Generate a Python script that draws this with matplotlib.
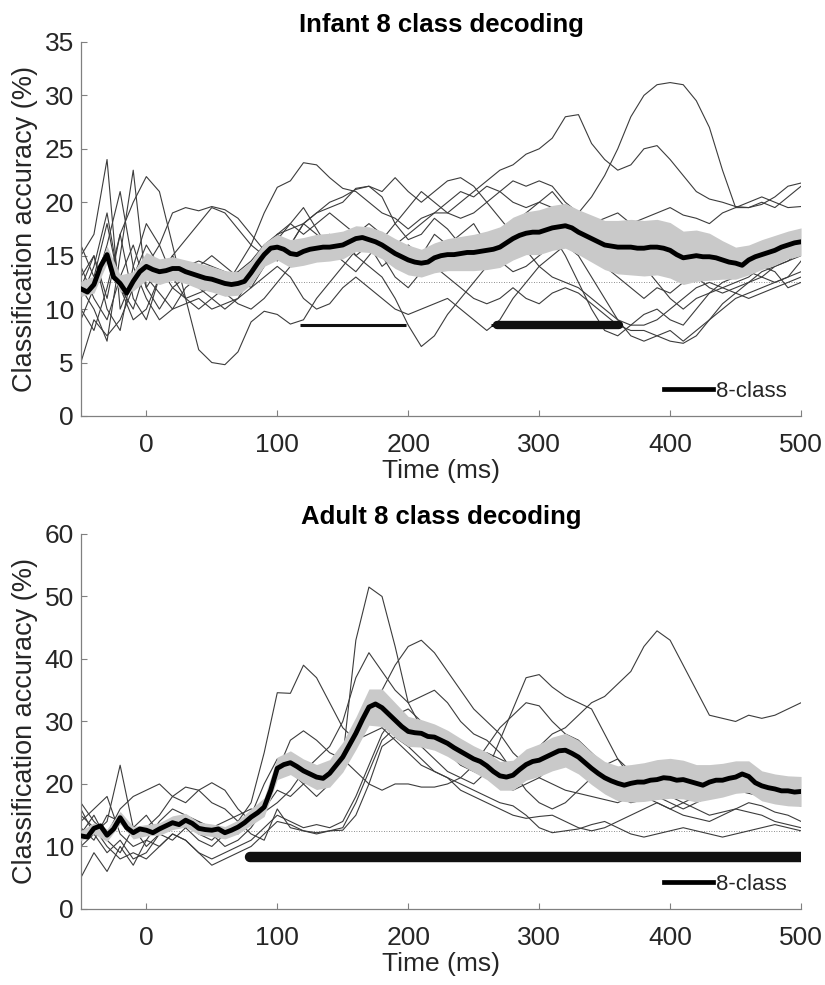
import numpy as np
import matplotlib.pyplot as plt
from matplotlib.lines import Line2D

plt.rcParams['font.family'] = ['Liberation Sans', 'DejaVu Sans']

# ---------------- data ----------------
t_sub = np.arange(-50, 501, 10)    # grid of the single-subject curves (ms)
t_mean = np.arange(-50, 501, 5)    # grid of the group mean (ms)
CHANCE = 12.5

# Infant subjects (t = -50 .. 500, 10 ms)
inf_s1 = [10, 8, 12, 17, 11, 9, 13, 15, 13, 12,
          11, 10, 11, 13, 15, 17, 16, 18, 17, 16,
          17, 15, 16, 14, 15, 16, 15, 17, 16, 17,
          18, 16, 15, 17, 18, 19, 18, 19, 19, 20.5,
          22.5, 25, 28, 30, 31, 31.2, 31, 29.5, 27, 23,
          19.5, 19.5, 20, 19.5, 20.5, 21.5]
inf_s2 = [14, 11, 9, 13, 16, 12, 10, 12, 13, 14,
          15, 14, 13, 12, 14, 17, 18, 17, 18, 19,
          18, 17, 18, 17, 16, 17, 18, 19, 19, 20,
          21, 22, 23, 23.5, 24.5, 25, 26, 28, 28.2, 25.5,
          24, 23, 23.5, 25, 25.3, 24, 22.5, 21, 20.3, 20,
          19.6, 19.5, 19.8, 20.5, 21.5, 21.8]
inf_s3 = [16, 13, 18, 12, 10, 14, 16, 13, 11, 10,
          11, 12, 14, 16, 19, 21.4, 22, 23.7, 23.5, 22.3,
          21.3, 21, 20, 19, 18.5, 17.5, 18.5, 19, 20, 21,
          20.5, 21.5, 21, 22, 21.5, 22, 21.5, 20, 19, 18,
          17, 16, 15.5, 14, 12.5, 11, 10, 11, 11.5, 12,
          12.5, 13, 14, 13.5, 12, 12.5]
inf_s4 = [13, 15, 10, 8, 14, 18, 16, 19, 19.5, 19.2,
          19.6, 19.3, 18.5, 17, 15.5, 14.5, 16, 18, 19, 19.5,
          20, 21.3, 21.5, 20.5, 18, 16.5, 17, 18.5, 17.5, 16,
          16.5, 15.5, 14.5, 13.5, 14, 15, 16, 17.5, 16.5, 15,
          14, 13, 12, 11, 12, 11.5, 12.5, 13, 12, 11.5,
          12, 12.5, 13.5, 14, 14.5, 15.5]
inf_s5 = [11, 14, 19, 12, 9, 10, 13, 15, 16.5, 18,
          19.5, 19, 17.5, 16, 15, 16.5, 18, 19.5, 17.5, 15.5,
          14.5, 13.5, 15, 16.5, 18, 19.5, 21, 20, 19, 18.5,
          19, 20, 21, 20, 19.5, 20, 21, 19.5, 19, 18,
          18.5, 19, 18, 18.5, 19, 19.5, 18.8, 18.5, 18, 19,
          19.5, 20, 20.5, 20, 19.5, 19.6]
inf_s6 = [12, 15, 11, 17, 20, 22.4, 21, 16, 11, 6.2,
          5, 4.8, 6, 8.8, 9.8, 9.5, 8.6, 9, 11, 12.5,
          14, 15.5, 16.5, 15, 13, 12, 13.5, 14, 13, 12,
          11, 10.5, 11, 12, 11, 10.5, 11.5, 12, 11.5, 10.5,
          9.5, 8.5, 8, 8, 7.5, 8, 7, 8, 9, 10.5,
          11.5, 12.5, 13, 14, 14.5, 15]
inf_s7 = [9, 12, 16, 21, 14, 11, 9, 10, 12, 13,
          12.5, 11.5, 10.5, 10, 11, 12.5, 14, 15, 16, 17,
          16, 15, 14, 13, 11, 8.5, 6.5, 7.5, 9.5, 11,
          12.5, 14, 15.5, 17, 18, 18.5, 17, 15, 12.5, 10,
          8, 7.5, 8.5, 9.5, 10, 9, 8.5, 10, 11.5, 12.5,
          13, 13.5, 13, 12.5, 13, 13.5]
inf_s8 = [15, 17, 24, 10, 13, 16, 14, 12, 11, 11.5,
          12, 13, 13.5, 14.5, 16, 17, 17.5, 18, 19, 20,
          20.5, 21.2, 21.5, 21, 22.3, 21, 20, 21, 22, 22.3,
          21.5, 20, 18.5, 17, 15.5, 14, 13, 12.5, 12, 11,
          10, 9, 8.5, 8.5, 9, 10, 11, 12, 12.5, 12,
          11.5, 11, 11.5, 12, 12.5, 13]
inf_s9 = [5, 9, 7.5, 9, 12, 13, 11.5, 10, 10.5, 11,
          10, 10.5, 11, 12, 13, 14, 13, 11, 10, 10.5,
          12, 13, 12, 11, 10, 9.5, 10, 10.5, 11, 10,
          9, 8, 9, 11, 12.5, 14, 15, 16, 15, 13,
          11, 9, 7.5, 7, 7.5, 7, 6.8, 7.5, 9, 10,
          11, 11.5, 12, 12.5, 13, 14.5]
inf_s10 = [12, 10, 7, 15, 23, 12, 14, 13.5, 14, 14.5,
           14, 13.5, 13, 12.5, 14, 15.5, 16, 15, 14.5, 15,
           16, 17, 17.5, 16.5, 15, 14, 13.5, 14.5, 15, 16,
           16.5, 17, 17.5, 18, 19, 20, 19.5, 18, 17, 16,
           15.5, 15, 15.5, 16, 15, 14.5, 14, 14.5, 15, 14.5,
           14, 14.5, 15, 16, 16.5, 17]

# Infant group mean (5 ms) and SEM (10 ms)
inf_mean = [11.9, 11.6, 12.3, 14.0, 15.1, 13.0, 12.4, 11.5, 12.6, 13.5,
            14.0, 13.7, 13.5, 13.6, 13.8, 13.8, 13.5, 13.3, 13.1, 12.9,
            12.8, 12.6, 12.4, 12.3, 12.4, 12.6, 13.4, 14.3, 15.1, 15.7,
            15.8, 15.6, 15.2, 15.1, 15.4, 15.6, 15.7, 15.8, 15.8, 15.9,
            16.0, 16.3, 16.6, 16.7, 16.5, 16.3, 16.0, 15.6, 15.2, 14.9,
            14.6, 14.4, 14.3, 14.4, 14.8, 15.0, 15.1, 15.1, 15.2, 15.3,
            15.3, 15.4, 15.5, 15.6, 15.8, 16.2, 16.6, 16.9, 17.1, 17.2,
            17.2, 17.4, 17.6, 17.7, 17.8, 17.6, 17.2, 16.9, 16.6, 16.3,
            16.0, 15.9, 15.8, 15.8, 15.8, 15.7, 15.7, 15.8, 15.8, 15.7,
            15.5, 15.1, 14.8, 14.9, 15.0, 14.9, 14.9, 14.8, 14.6, 14.4,
            14.3, 14.1, 14.6, 14.9, 15.1, 15.3, 15.5, 15.8, 16.0, 16.2,
            16.3]
inf_sem = [0.7, 0.8, 0.8, 0.8, 0.9, 1.3, 1.2, 1.1, 1.1, 1.2,
           1.2, 1.2, 1.1, 1.1, 1.1, 1.2, 1.3, 1.3, 1.3, 1.3,
           1.3, 1.2, 1.2, 1.3, 1.4, 1.4, 1.3, 1.4, 1.5, 1.6,
           1.7, 1.8, 1.9, 2.0, 2.0, 2.1, 2.1, 2.1, 2.1, 2.2,
           2.3, 2.5, 2.6, 2.6, 2.6, 2.6, 2.5, 2.4, 2.2, 1.8,
           1.5, 1.4, 1.4, 1.4, 1.3, 1.3]

# Adult subjects (t = -50 .. 500, 10 ms)
ad_s1 = [16, 12, 14, 23, 13, 10, 12, 13, 14, 12,
         11, 13, 12, 15, 20, 24, 22, 20, 18, 20,
         24, 43, 51.5, 50, 42, 33, 29, 27, 25, 23,
         22, 21, 20, 19, 20, 21, 23, 24, 22, 21,
         19, 18, 17, 17.5, 18, 17, 16, 17, 18, 19,
         19.5, 19, 18, 17.5, 17, 16.5]
ad_s2 = [12, 15, 11, 9, 13, 15, 12, 11, 13, 14,
         12, 10, 11, 13, 16, 19, 18, 20, 22, 21,
         23, 27, 31, 35, 39, 42, 43, 41, 38, 35,
         32, 30, 28, 25, 23, 21, 20, 19, 18.5, 18,
         17.5, 17, 18, 19, 20, 19, 20, 21, 22, 21,
         20, 19.5, 19, 18, 17, 16.5]
ad_s3 = [14, 16, 18, 12, 10, 11, 14, 16, 15, 14,
         13, 14, 15, 16, 15.5, 17, 19, 22, 24, 26,
         30, 37, 41, 38, 35, 33, 34, 35, 33, 30,
         28, 27, 25, 22, 19, 17, 16, 17, 19, 21,
         23, 24, 22, 21, 20, 19, 18, 19, 20, 19.5,
         19, 18.5, 18, 18.5, 19, 19]
ad_s4 = [10, 12, 9, 11, 8, 9, 12, 14, 13, 11,
         10, 12, 14, 17, 25, 34.6, 34.5, 39, 37, 33,
         29, 27, 28, 29, 27, 25, 23, 22, 21, 19,
         18, 17, 16, 15, 14.5, 14.8, 15, 14, 13, 12.5,
         13, 14, 15, 16, 17, 16, 15, 14.5, 14, 15,
         16, 17, 16.5, 15.5, 15, 14]
ad_s5 = [5, 9, 6, 10, 7, 11, 10, 12, 11, 9,
         8, 9, 10, 11, 13, 15, 14, 13, 13.5, 13,
         14, 18, 23, 28, 31, 32, 30, 27, 25, 24,
         24.5, 25, 24, 23, 24, 26, 28, 29, 31, 33,
         34, 36, 38, 42, 44.5, 43, 39, 35, 31, 30.5,
         30, 31, 30.5, 31, 32, 33]
ad_s6 = [13, 11, 15, 14, 12, 13, 15, 18, 19.5, 19,
         17, 16, 14, 12, 11, 16, 13, 12.5, 12, 12.5,
         13, 17, 22, 27, 29, 28, 26, 24, 22, 21,
         20, 22, 27, 32, 37, 37.5, 35.5, 34, 33, 32,
         28, 24, 21, 20, 19, 18, 17, 16, 15, 15.5,
         16, 15.5, 15, 14, 13.5, 13]
ad_s7 = [17, 14, 12, 16, 18, 19, 20, 18, 17, 19,
         20.2, 19, 16, 14, 17, 22, 27, 28.5, 27, 25,
         24, 22, 20, 19, 20, 20, 19.5, 19.5, 20, 21,
         23, 26, 29, 31, 33, 32.5, 30, 28, 27, 25,
         23, 21, 19, 18, 17, 16, 17, 18, 19, 20,
         21, 22, 21.5, 20, 19, 18.5]
ad_s8 = [15, 13, 10, 8, 9, 8, 10, 12, 11, 9,
         7, 8, 9, 10, 12, 14, 13.5, 12.5, 12.2, 12.5,
         12.6, 15, 20, 26, 27.5, 26, 24, 22, 21, 20,
         19, 18, 17, 16.5, 15, 13, 12.2, 12.5, 12.8, 13.5,
         14, 13, 12, 11.5, 12, 12.5, 13, 12.5, 12, 11.5,
         12, 12.5, 13, 13.5, 13, 12.5]

# Adult group mean (5 ms) and SEM (10 ms)
ad_mean = [11.7, 11.5, 12.9, 13.3, 11.8, 12.8, 14.6, 13.0, 12.2, 12.8,
           12.6, 12.2, 12.8, 13.3, 13.8, 13.5, 14.2, 13.7, 12.9, 12.7,
           12.6, 12.8, 12.2, 12.6, 13.1, 13.8, 14.7, 15.4, 16.3, 19.0,
           22.5, 23.1, 23.4, 22.8, 22.1, 21.6, 21.1, 20.9, 21.7, 23.0,
           24.3, 26.2, 28.1, 30.3, 32.3, 32.8, 32.2, 31.2, 30.2, 29.2,
           28.4, 28.2, 28.1, 27.6, 27.5, 27.0, 26.5, 25.8, 25.2, 24.6,
           24.0, 23.6, 22.9, 22.0, 21.3, 21.1, 21.4, 22.3, 23.1, 23.6,
           23.8, 24.3, 24.8, 25.3, 25.4, 24.9, 24.3, 23.4, 22.5, 21.7,
           21.0, 20.5, 20.1, 19.8, 20.1, 20.3, 20.3, 20.6, 20.7, 21.0,
           20.9, 20.6, 20.7, 20.4, 20.1, 19.8, 20.3, 20.6, 20.6, 20.9,
           21.1, 21.6, 21.2, 20.2, 19.7, 19.4, 19.2, 18.9, 18.9, 18.7,
           18.8]
ad_sem = [0.8, 0.9, 1.0, 1.0, 1.0, 0.9, 1.0, 1.1, 1.1, 1.0,
          1.0, 1.0, 1.1, 1.3, 1.5, 1.8, 1.9, 1.9, 2.0, 2.2,
          2.4, 2.6, 2.9, 3.0, 2.8, 2.4, 2.2, 2.1, 2.1, 2.1,
          2.1, 2.2, 2.3, 2.4, 2.5, 2.6, 2.7, 2.7, 2.7, 2.6,
          2.6, 2.8, 3.0, 3.1, 3.2, 3.2, 3.1, 3.0, 2.8, 2.7,
          2.6, 2.5, 2.4, 2.4, 2.4, 2.4]

# significant time windows (ms) and the height at which they are marked
inf_sig_thin = [(117, 198), (263, 268)]
inf_sig_thick = [(268, 361)]
inf_sig_y = 8.5
ad_sig_thin = []
ad_sig_thick = [(79, 500)]
ad_sig_y = 8.3

inf_subjects = [inf_s1, inf_s2, inf_s3, inf_s4, inf_s5,
                inf_s6, inf_s7, inf_s8, inf_s9, inf_s10]
ad_subjects = [ad_s1, ad_s2, ad_s3, ad_s4, ad_s5, ad_s6, ad_s7, ad_s8]

AX_GREY = '#808080'
TXT = '#262626'


def draw_panel(ax, subjects, mean, sem, sig_thin, sig_thick, sig_y,
               ymax, ystep, title, thick_lw):
    """one decoding panel: subjects, mean +- sem, chance, significance"""
    for s in subjects:
        ax.plot(t_sub, s, color='#3c3c3c', lw=0.8, zorder=2)

    mean = np.asarray(mean)
    sem = np.asarray(sem)
    m10 = mean[::2]
    ax.fill_between(t_sub, m10 - sem, m10 + sem, color='#c9c9c9',
                    lw=0, zorder=3)
    ax.plot(t_mean, mean, color='black', lw=3.5, zorder=4)

    ax.axhline(CHANCE, color='#6a6a6a', lw=0.6, ls=(0, (1, 2)), zorder=1)

    for a, b in sig_thin:
        ax.plot([a, b], [sig_y, sig_y], color='#111111', lw=2.2,
                solid_capstyle='butt', zorder=5)
    for a, b in sig_thick:
        ax.plot([a, b], [sig_y, sig_y], color='#111111', lw=thick_lw,
                solid_capstyle='round', zorder=5)

    ax.set_xlim(-50, 500)
    ax.set_ylim(0, ymax)
    ax.set_xticks(np.arange(0, 501, 100))
    ax.set_yticks(np.arange(0, ymax + 1, ystep))

    for side in ('top', 'right'):
        ax.spines[side].set_visible(False)
    for side in ('left', 'bottom'):
        ax.spines[side].set_color(AX_GREY)
        ax.spines[side].set_linewidth(0.9)
    ax.tick_params(direction='in', length=4.5, width=0.8, color=AX_GREY,
                   labelsize=19, labelcolor=TXT)
    ax.tick_params(axis='x', pad=12)
    ax.tick_params(axis='y', pad=5)

    ax.set_xlabel('Time (ms)', fontsize=19, color=TXT, labelpad=2)
    ax.set_ylabel('Classification accuracy (%)', fontsize=19.5, color=TXT,
                  labelpad=5)
    ax.set_title(title, fontsize=18.5, fontweight='bold', color='black',
                 pad=7)

    handle = Line2D([], [], color='black', lw=3.4)
    ax.legend([handle], ['8-class'], loc='lower right', frameon=False,
              fontsize=16, handlelength=2.2, handletextpad=0.15,
              borderaxespad=0.25, labelcolor=TXT)


fig = plt.figure(figsize=(8.25, 9.85), dpi=100)
ax1 = fig.add_axes([0.098, 0.5777, 0.873, 0.3797])
ax2 = fig.add_axes([0.098, 0.0772, 0.873, 0.3807])

draw_panel(ax1, inf_subjects, inf_mean, inf_sem, inf_sig_thin, inf_sig_thick,
           inf_sig_y, 35, 5, 'Infant 8 class decoding', 6.0)
draw_panel(ax2, ad_subjects, ad_mean, ad_sem, ad_sig_thin, ad_sig_thick,
           ad_sig_y, 60, 10, 'Adult 8 class decoding', 7.5)

fig.savefig('out.png', dpi=100, facecolor='white')
